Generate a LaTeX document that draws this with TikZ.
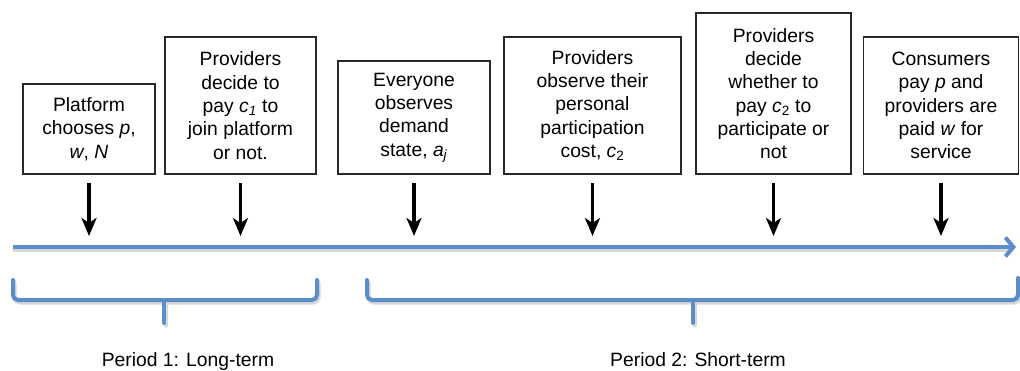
\documentclass[tikz,border=0pt]{standalone}
\usepackage{fontspec}
\setmainfont{Liberation Sans}
\usetikzlibrary{arrows.meta}
\definecolor{timeblue}{RGB}{90,141,201}
\definecolor{boxline}{RGB}{40,40,40}
\definecolor{softshadow}{RGB}{215,215,215}
\begin{document}
\begin{tikzpicture}[x=1pt,y=-1pt,
  stagebox/.style={draw=boxline,line width=1.4pt,fill=white,align=center,
    inner sep=0pt,font=\fontsize{19.3}{23.3}\selectfont},
  drop/.style={line width=3.4pt,shorten >=11pt,
    -{Stealth[length=18pt,width=15pt,inset=5pt]}},
  timeaxis/.style={draw=timeblue,line width=4pt,
    -{Straight Barb[length=8pt,width=19pt]}},
  periodbrace/.style={draw=timeblue,line width=4pt,rounded corners=5pt,line cap=round},
  braceshade/.style={draw=softshadow,line width=4pt,rounded corners=5pt,line cap=round},
  periodlabel/.style={font=\fontsize{19.3}{23.3}\selectfont,anchor=base}]
\useasboundingbox (0,0) rectangle (1020,370);

% stages of the game
\node[stagebox,minimum width=132pt,minimum height=90pt] (b1) at (89,129)
  {Platform\\chooses \textit{p},\\\textit{w}, \textit{N}};
\node[stagebox,minimum width=151pt,minimum height=137pt] (b2) at (240.5,105.5)
  {Providers\\decide to\\pay \textit{c}\textsubscript{\textit{1}} to\\join platform\\or not.};
\node[stagebox,minimum width=152pt,minimum height=113pt] (b3) at (414,117.5)
  {Everyone\\observes\\demand\\state, \textit{a}\textsubscript{\textit{j}}};
\node[stagebox,minimum width=177pt,minimum height=137pt] (b4) at (592.5,105.5)
  {Providers\\observe their\\personal\\participation\\cost, \textit{c}\textsubscript{2}};
\node[stagebox,minimum width=155pt,minimum height=161pt] (b5) at (773.5,93.5)
  {Providers\\decide\\whether to\\pay \textit{c}\textsubscript{2} to\\participate or\\not};
\node[stagebox,minimum width=155pt,minimum height=137pt] (b6) at (941,105.5)
  {Consumers\\pay \textit{p} and\\providers are\\paid \textit{w} for\\service};

% time axis
\coordinate (axisL) at (13,247);
\coordinate (axisR) at (1016,247);
\draw[braceshade,shift={(1.5,2.5)}] (13,247) -- (1010,247);
\draw[timeaxis] (axisL) -- (axisR);

% arrows from each stage down to the axis
\foreach \b in {b1,b2,b3,b4,b5,b6}
  \draw[drop] ([yshift=-8pt]\b.south) -- (\b.south |- axisL);

% period braces (soft shadow first)
\begin{scope}[shift={(1.5,2.5)}]
  \draw[braceshade] (13,280) -- (13,300) -- (317,300) -- (317,280);
  \draw[braceshade] (164,300) -- (164,323);
  \draw[braceshade] (367,280) -- (367,300) -- (1018,300) -- (1018,278);
  \draw[braceshade] (693,300) -- (693,323);
\end{scope}
\draw[periodbrace] (13,280) -- (13,300) -- (317,300) -- (317,280);
\draw[periodbrace] (164,300) -- (164,323);
\draw[periodbrace] (367,280) -- (367,300) -- (1018,300) -- (1018,278);
\draw[periodbrace] (693,300) -- (693,323);

% period labels
\node[periodlabel] (p1) at (188,366) {Period 1: Long-term};
\node[periodlabel] (p2) at (698,366) {Period 2: Short-term};
\end{tikzpicture}
\end{document}
